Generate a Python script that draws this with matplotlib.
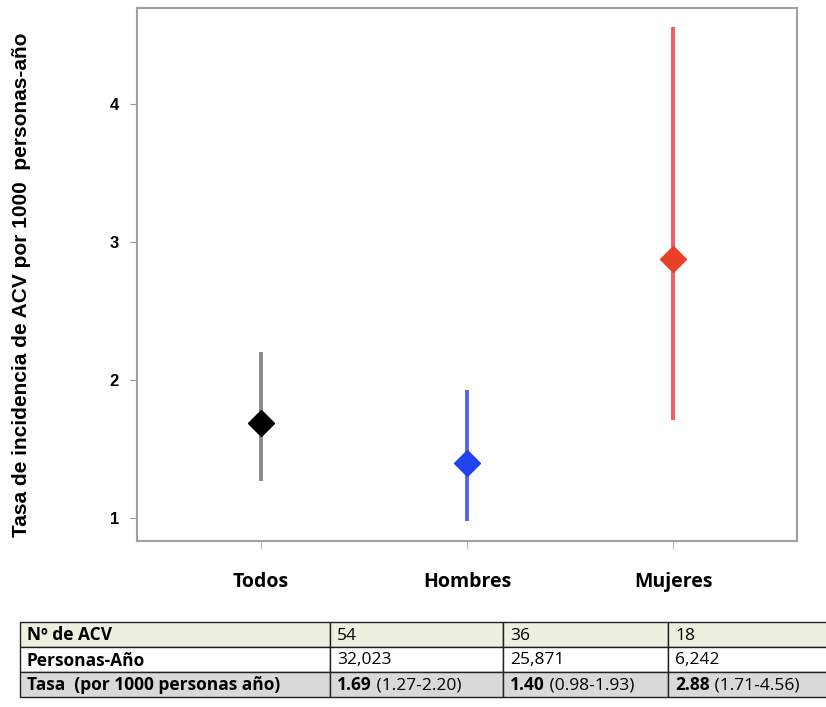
import matplotlib
matplotlib.use("Agg")
import matplotlib.pyplot as plt
from matplotlib.patches import Rectangle

categories = ["Todos", "Hombres", "Mujeres"]
rates = [1.69, 1.40, 2.88]
lower = [1.27, 0.98, 1.71]
upper = [2.20, 1.93, 4.56]
n_acv = ["54", "36", "18"]
person_years = ["32,023", "25,871", "6,242"]
yticks = [1, 2, 3, 4]
row_labels = ["Nº de ACV", "Personas-Año", "Tasa  (por 1000 personas año)"]

marker_colors = ["#000000", "#2244ee", "#e8402a"]
line_colors = ["#8a8a8a", "#5566ee", "#ee6060"]

W, H = 826, 707
fig = plt.figure(figsize=(W/100, H/100), dpi=100)

ax = fig.add_axes([137/W, 1-541/H, 660/W, 533/H])
xs = list(range(len(categories)))
for x, r, lo, hi, mc, lc in zip(xs, rates, lower, upper, marker_colors, line_colors):
    ax.plot([x, x], [lo, hi], color=lc, lw=2.8, solid_capstyle="butt", zorder=2)
    ax.plot([x], [r], marker="D", markersize=13.5, color=mc, mec=mc, zorder=3)

ax.set_xlim(-0.6, 2.6)
ax.set_ylim(0.833, 4.696)
ax.set_yticks(yticks)
ax.set_yticklabels([str(t) for t in yticks], fontsize=12, fontweight="bold", family="Liberation Sans")
ax.set_xticks(xs)
ax.set_xticklabels(categories, fontsize=14, fontweight="bold", family="Open Sans")
ax.tick_params(axis="x", length=6, color="#bbbbbb", pad=16)
ax.tick_params(axis="y", length=5, color="#999999", pad=8)
for s in ax.spines.values():
    s.set_color("#a0a0a0")
    s.set_linewidth(1.5)

fig.text(22/W, 1-285/H, "Tasa de incidencia de ACV por 1000  personas-año", rotation=90,
         ha="center", va="center", fontsize=15, fontweight="bold", family="Liberation Sans")

# table
tax = fig.add_axes([0, 0, 1, 1])
tax.set_xlim(0, W)
tax.set_ylim(H, 0)
tax.axis("off")
col_edges = [20, 330, 503, 668, 840]
row_edges = [622, 647, 672, 697]
row_bg = ["#ebf1de", "#ffffff", "#d9d9d9"]
cells = [
    [row_labels[0]] + n_acv,
    [row_labels[1]] + person_years,
]
fs = 12.5
for i in range(3):
    y0, y1 = row_edges[i], row_edges[i+1]
    for j in range(4):
        x0, x1 = col_edges[j], col_edges[j+1]
        tax.add_patch(Rectangle((x0, y0), x1-x0, y1-y0, facecolor=row_bg[i],
                                edgecolor="#222222", lw=1.0))
        ty = (y0 + y1) / 2 + 1
        if i < 2:
            tax.text(x0 + 7, ty, cells[i][j], va="center", ha="left", fontsize=fs,
                     family="Open Sans", fontweight="bold" if j == 0 else "normal")
        else:
            if j == 0:
                tax.text(x0 + 7, ty, row_labels[2], va="center", ha="left", fontsize=fs,
                         family="Open Sans", fontweight="bold")
            else:
                k = j - 1
                t1 = tax.text(x0 + 7, ty, f"{rates[k]:.2f}", va="center", ha="left",
                              fontsize=fs, family="Open Sans", fontweight="bold")
                tax.annotate(f" ({lower[k]:.2f}-{upper[k]:.2f})", xycoords=t1, xy=(1, 0.5),
                             va="center", ha="left", fontsize=fs, family="Open Sans")

fig.savefig("out.png", dpi=100)
